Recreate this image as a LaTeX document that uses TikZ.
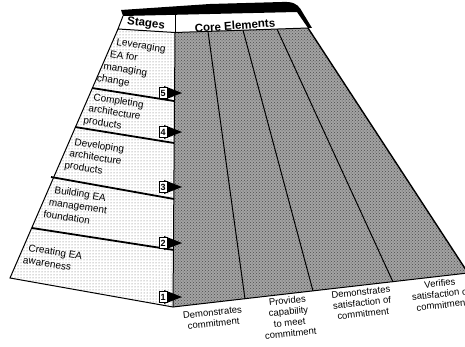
\documentclass[tikz,border=0pt]{standalone}
\usepackage{fontspec}
\setmainfont{Liberation Sans}
\usetikzlibrary{patterns,calc}

\begin{document}
\begin{tikzpicture}[x=1pt,y=-1pt,
stg/.style={anchor=base west,rotate=-9,inner sep=0pt,font=\fontsize{10}{12}\selectfont},
hd/.style={inner sep=0pt,font=\bfseries\fontsize{11.5}{13}\selectfont},
el/.style={align=center,rotate=6,inner sep=0pt,font=\fontsize{9.5}{11}\selectfont},
num/.style={draw,fill=white,line width=0.8pt,inner sep=0.5pt,minimum width=8pt,minimum height=11pt,font=\bfseries\fontsize{9}{9}\selectfont},
div/.style={line width=1.8pt},
col/.style={line width=1pt}]
\useasboundingbox (0,0) rectangle (465,347);
% panel corners
\coordinate (sTL) at (118,29);
\coordinate (sBL) at (10,278);
\coordinate (cTL) at (175,32.5);
\coordinate (cTR) at (308,28);
\coordinate (cBR) at (468,273);
\coordinate (cBL) at (173,307);
% core elements panel
\fill[black!36] (cTL) -- (cTR) -- (cBR) -- (cBL) -- cycle;
\fill[pattern=crosshatch dots,pattern color=black!70] (cTL) -- (cTR) -- (cBR) -- (cBL) -- cycle;
% stages panel
\fill[white] (sTL) -- (cTL) -- (cBL) -- (sBL) -- cycle;
\fill[pattern=dots,pattern color=black!60] (sTL) -- (cTL) -- (cBL) -- (sBL) -- cycle;
% header
\fill[white] (123,16) -- (297,12) -- (cTR) -- (cTL) -- (sTL) -- cycle;
\fill (123,16) -- (121,10) -- (210,4) -- (282,2) .. controls (292,1.5) and (297,3.5) .. (300.5,9)
  -- (312,28) -- (cTR) -- (297,12) -- cycle;
\draw[col] (123,16) -- (sTL) -- (cTL) -- (cTR);
\draw[col] (175,14) -- (cTL);
% stage dividers
\draw[div] (92,88) -- (174,101);
\draw[div] (75,127) -- (174,143);
\draw[div] (51,177) -- (174,199);
\draw[div] (32,228) -- (174,250);
% outlines
\draw[col] (sTL) -- (sBL) -- (cBL) -- (cBR);
\draw[line width=1.4pt] (cTR) -- (cBR);
\draw[col] (cTL) -- (cBL);
% element columns
\draw[col] (208,31.4) -- (245,299);
\draw[col] (243,30.2) -- (313,291);
\draw[col] (277,29.1) -- (393,282);
% stage markers
\foreach \n/\y in {5/93,4/132,3/187,2/243,1/297}{
  \fill (164,\y-7) -- (182,\y) -- (164,\y+7) -- cycle;
  \node[num] (m\n) at (163,\y) {\n};
}
% headings
\node[hd,rotate=-7] (stages) at (146,24) {Stages};
\node[hd,rotate=4] (core) at (235,25.5) {Core Elements};
% stage texts
\foreach \x/\y/\t [count=\i] in {116/45/Leveraging,109.5/57/EA for,103/69/managing,96.5/81/change,
  93/100/Completing,88/111.5/architecture,83/123/products,
  74/145/Developing,69/156.5/architecture,64/168/products,
  54/193/Building EA,48.5/205/management,43/217/foundation,
  28/251/Creating EA,22.5/263/awareness}
  \node[stg] (t\i) at (\x,\y) {\t};
% core elements
\node[el] (e1) at (213,318) {Demonstrates\\commitment};
\node[el] (e2) at (289,317) {Provides\\capability\\to meet\\commitment};
\node[el] (e3) at (362,303) {Demonstrates\\satisfaction of\\commitment};
\node[el] (e4) at (441,294) {Verifies\\satisfaction of\\commitment};
\end{tikzpicture}
\end{document}
